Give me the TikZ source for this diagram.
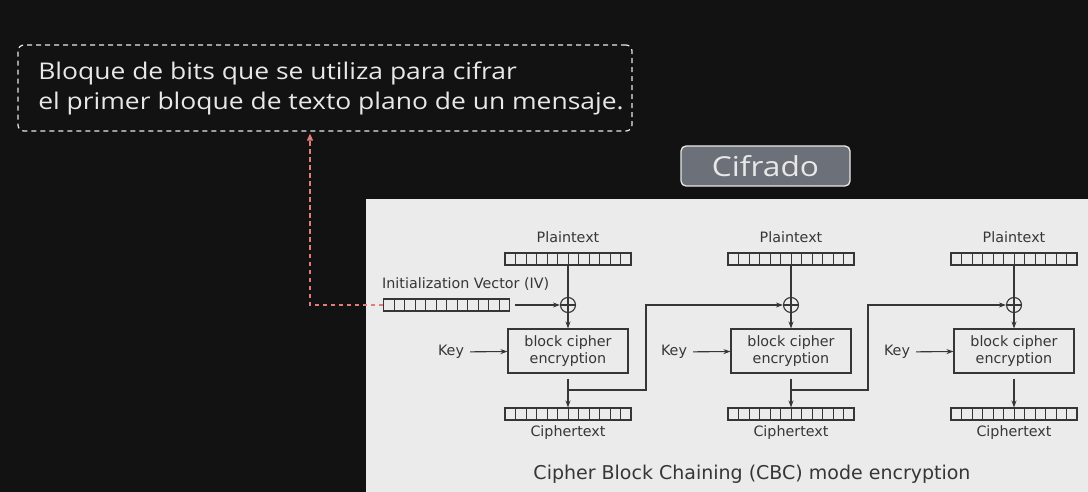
\documentclass[tikz,border=0pt]{standalone}
\usepackage{fontspec}
\usetikzlibrary{arrows.meta}
\newfontfamily\diagfont{DejaVu Sans}
\newfontfamily\handfont[FakeStretch=1.15]{Open Sans}
\definecolor{bgdark}{HTML}{121212}
\definecolor{panel}{HTML}{EBEBEB}
\definecolor{ink}{HTML}{363636}
\definecolor{chalk}{HTML}{E8E8E8}
\definecolor{pinkline}{HTML}{E07C7C}
\definecolor{tagfill}{HTML}{6C7078}

\begin{document}
\begin{tikzpicture}[x={(1pt,0)}, y={(0,-1pt)},
  >={Stealth[length=7pt,width=5pt]},
  line/.style={draw=ink, line width=1.1pt},
  lbl/.style={text=ink, font=\diagfont\fontsize{14.3}{16}\selectfont, inner sep=0pt},
  bits/.style={draw=ink, line width=1.1pt, minimum width=126pt, minimum height=12pt, inner sep=0pt,
    path picture={\foreach \k in {1,...,11} \draw[ink, line width=1pt] ([xshift=\k*10.5pt]path picture bounding box.south west) -- ([xshift=\k*10.5pt]path picture bounding box.north west);}},
  xor/.style={circle, draw=ink, line width=1.1pt, minimum size=15pt, inner sep=0pt,
    path picture={\draw[ink, line width=1.1pt] (path picture bounding box.north) -- (path picture bounding box.south) (path picture bounding box.west) -- (path picture bounding box.east);}},
  enc/.style={draw=ink, line width=1.1pt, minimum width=120pt, minimum height=44pt, align=center, text=ink, font=\diagfont\fontsize{14.3}{17}\selectfont},
  note/.style={draw=chalk, dash pattern=on 5pt off 4pt, line width=1.2pt, rounded corners=6pt, minimum width=614pt, minimum height=86pt, align=left, text=chalk, font=\handfont\fontsize{23}{30}\selectfont},
  tag/.style={draw=chalk, fill=tagfill, line width=1.3pt, rounded corners=5pt, minimum width=169pt, minimum height=40pt, text=chalk, font=\handfont\fontsize{27.5}{30}\selectfont},
  pinkarrow/.style={draw=pinkline, dash pattern=on 4.5pt off 3.5pt, line width=1.2pt, -{Triangle[length=7pt,width=6pt]}, shorten >=2pt}]

\fill[bgdark] (0,0) rectangle (1088,492);
\useasboundingbox (0,0) rectangle (1088,492);
\fill[panel] (366,199) rectangle (1088,492);

\node[note] (note) at (325,88) {\hspace*{12pt}Bloque de bits que se utiliza para cifrar\\\hspace*{12pt}el primer bloque de texto plano de un mensaje.};
\node[tag] (tag) at (765.5,166) {Cifrado};

\foreach \i/\cx in {1/568,2/791,3/1014} {
  \node[lbl] (pl\i) at (\cx,237) {Plaintext};
  \node[bits] (pt\i) at (\cx,259) {};
  \node[xor] (xor\i) at (\cx,305) {};
  \node[enc] (enc\i) at (\cx,351) {block cipher\\encryption};
  \coordinate (br\i) at (\cx,390);
  \node[bits] (ct\i) at (\cx,414) {};
  \node[lbl] (cl\i) at (\cx,433) {Ciphertext};
  \node[lbl] (key\i) at (\cx-117,352) {Key};
  \draw[line] (pt\i) -- (xor\i);
  \draw[line,->] (xor\i) -- (enc\i);
  \draw[line,->,shorten <=6pt] (key\i) -- (enc\i);
  \draw[line,->,shorten <=5pt] (enc\i) -- (ct\i);
}

\node[lbl, anchor=west] (ivl) at (382,284) {Initialization Vector (IV)};
\node[bits, anchor=west] (iv) at (383,305) {};
\draw[line,->,shorten <=5pt] (iv) -- (xor1);

\draw[line,->] (br1) -- ++(78,0) |- (xor2);
\draw[line,->] (br2) -- ++(77,0) |- (xor3);

\node[text=ink, font=\diagfont\fontsize{19}{22}\selectfont] (title) at (752,474) {Cipher Block Chaining (CBC) mode encryption};

\coordinate (bend) at (310,305);
\draw[pinkarrow] (iv.west) -- (bend) -- (bend |- note.south);

\end{tikzpicture}
\end{document}
